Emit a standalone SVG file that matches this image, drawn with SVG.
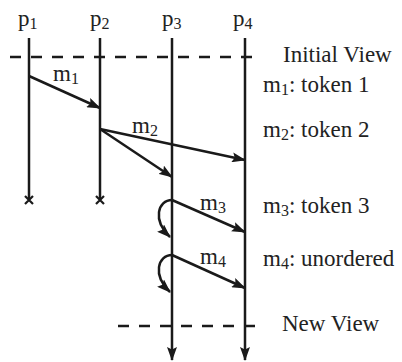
<svg xmlns="http://www.w3.org/2000/svg" width="402" height="362" viewBox="0 0 402 362">
<style>
  text { font-family: "Liberation Serif", "Times New Roman", serif; font-size: 23px; fill: #222; }
  .sub { font-size: 16px; }
  .life { stroke: #1a1a1a; stroke-width: 2.5; fill: none; }
  .dash { stroke: #1a1a1a; stroke-width: 2.5; stroke-dasharray: 11 10; fill: none; }
  .msg { stroke: #1a1a1a; stroke-width: 2.5; fill: none; marker-end: url(#ah); }
  .xm { stroke: #1a1a1a; stroke-width: 2.2; fill: none; }
</style>
<defs>
  <marker id="ah" viewBox="0 0 14 10" refX="13" refY="5" markerWidth="14" markerHeight="10" orient="auto" markerUnits="userSpaceOnUse">
    <path d="M0,0 L14,5 L0,10 L2.5,5 z" fill="#1a1a1a"/>
  </marker>
</defs>

<g id="p1">
  <text x="18" y="26">p<tspan class="sub" dy="3">1</tspan></text>
  <line class="life" x1="29" y1="38" x2="29" y2="200"/>
  <path class="xm" d="M25,196 L33,204 M33,196 L25,204"/>
</g>
<g id="p2">
  <text x="90" y="26">p<tspan class="sub" dy="3">2</tspan></text>
  <line class="life" x1="100" y1="38" x2="100" y2="200"/>
  <path class="xm" d="M96,196 L104,204 M104,196 L96,204"/>
</g>
<g id="p3">
  <text x="162" y="26">p<tspan class="sub" dy="3">3</tspan></text>
  <line class="life" x1="172" y1="38" x2="172" y2="360" marker-end="url(#ah)"/>
</g>
<g id="p4">
  <text x="233" y="26">p<tspan class="sub" dy="3">4</tspan></text>
  <line class="life" x1="245" y1="38" x2="245" y2="360" marker-end="url(#ah)"/>
</g>

<g id="initial-view">
  <line class="dash" x1="10" y1="57" x2="258" y2="57"/>
  <text x="283" y="62">Initial View</text>
</g>
<g id="new-view">
  <line class="dash" x1="118" y1="326" x2="258" y2="326"/>
  <text x="282" y="331">New View</text>
</g>

<g id="legend">
  <text x="263" y="92">m<tspan class="sub" dy="3">1</tspan><tspan dy="-3">: token 1</tspan></text>
  <text x="263" y="137">m<tspan class="sub" dy="3">2</tspan><tspan dy="-3">: token 2</tspan></text>
  <text x="263" y="213">m<tspan class="sub" dy="3">3</tspan><tspan dy="-3">: token 3</tspan></text>
  <text x="263" y="266">m<tspan class="sub" dy="3">4</tspan><tspan dy="-3">: unordered</tspan></text>
</g>

<g id="connectors">
  <line class="msg" x1="29" y1="76" x2="100" y2="108"/>
  <text x="53" y="81">m<tspan class="sub" dy="3">1</tspan></text>
  <line class="msg" x1="100" y1="129" x2="245" y2="160"/>
  <line class="msg" x1="100" y1="129" x2="172" y2="177"/>
  <text x="132" y="133">m<tspan class="sub" dy="3">2</tspan></text>
  <line class="msg" x1="172" y1="200" x2="245" y2="232"/>
  <path class="msg" d="M172,200 C158,200 152,220 170,237"/>
  <text x="200" y="210">m<tspan class="sub" dy="3">3</tspan></text>
  <line class="msg" x1="172" y1="255" x2="245" y2="288"/>
  <path class="msg" d="M172,255 C158,255 152,275 170,292"/>
  <text x="200" y="264">m<tspan class="sub" dy="3">4</tspan></text>
</g>
</svg>
